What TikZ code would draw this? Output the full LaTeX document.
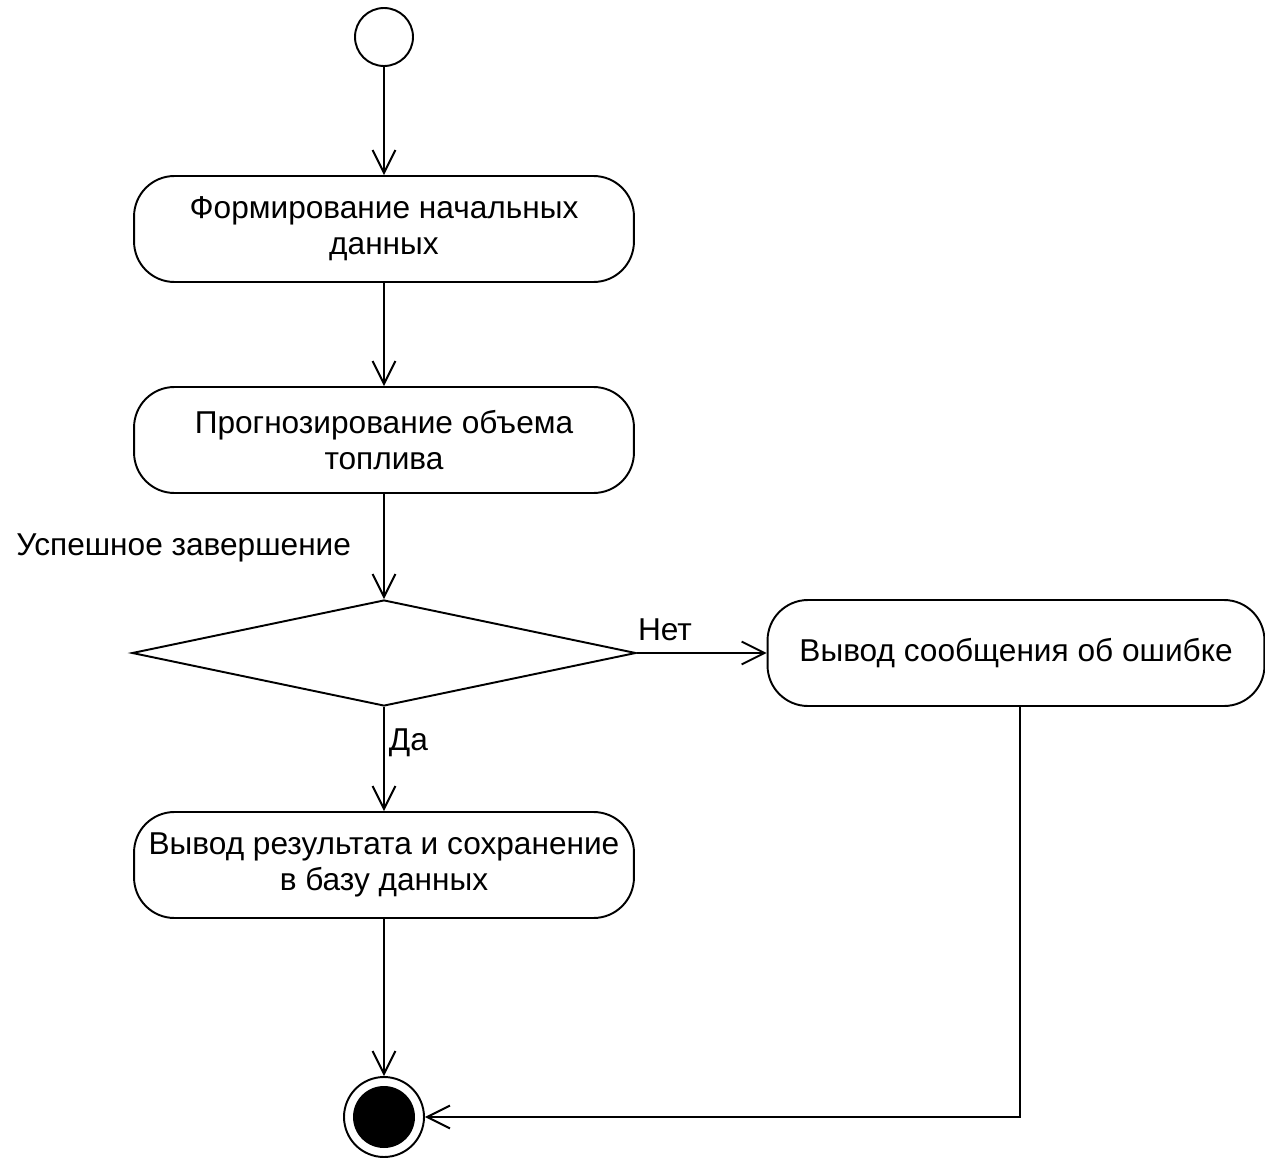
\documentclass[tikz,border=0pt]{standalone}
\usepackage{fontspec}
\setmainfont{Liberation Sans}
\usetikzlibrary{shapes.geometric,arrows.meta}

\begin{document}
\begin{tikzpicture}[x=0.02cm,y=-0.02cm,
  line width=1.1pt,
  every node/.style={font=\fontsize{18pt}{20.5pt}\selectfont},
  flow/.style={-{Straight Barb[length=13pt,width=13pt,line width=1.1pt]}},
  action/.style={draw,rectangle,rounded corners=23pt,minimum width=10cm,
    minimum height=2.12cm,align=center,inner sep=2pt},
  decision/.style={draw,diamond,minimum width=10.08cm,minimum height=2.12cm,
    inner sep=0pt},
  label/.style={inner sep=0pt}]
  \useasboundingbox (0,0) rectangle (1265,1159);

  % initial and final states
  \node[draw,circle,minimum size=1.16cm,inner sep=0pt] (start) at (384,37) {};
  \node[draw,circle,minimum size=1.6cm,inner sep=0pt] (stop) at (384,1117) {};
  \node[fill,circle,minimum size=1.24cm,inner sep=0pt] (stopdot) at (stop) {};

  % activities
  \node[action] (init) at (384,229) {Формирование начальных\\данных};
  \node[action] (forecast) at (384,440) {Прогнозирование объема\\топлива};
  \node[decision] (check) at (384,653) {};
  \node[action,minimum width=9.94cm] (error) at (1016,653) {Вывод сообщения об ошибке};
  \node[action] (save) at (384,865) {Вывод результата и сохранение\\в базу данных};

  % transitions
  \draw[flow] (start) -- (init);
  \draw[flow] (init) -- (forecast);
  \draw[flow] (forecast) -- (check);
  \draw[flow] (check.east) -- (error.west);
  \draw[flow] (check.south) -- (save.north);
  \draw[flow] (save) -- (stop);
  \draw[flow] (error.south -| 1020,0) |- (stop.east);

  % guard labels
  \node[label,anchor=east] (okcond) at (352,548) {Успешное завершение};
  \node[label] (no) at (665,630) {Нет};
  \node[label,anchor=west] (yes) at (388,743) {Да};
\end{tikzpicture}
\end{document}
